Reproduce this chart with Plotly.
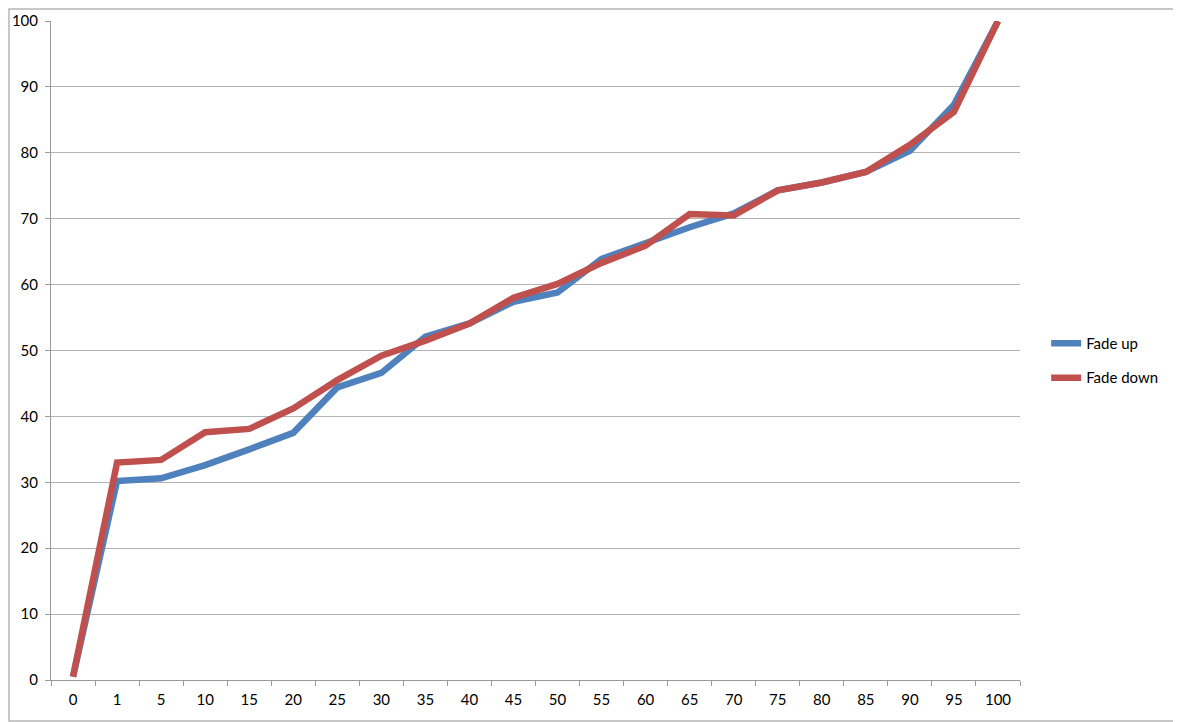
import plotly.graph_objects as go

categories = ["0", "1", "5", "10", "15", "20", "25", "30", "35", "40", "45",
              "50", "55", "60", "65", "70", "75", "80", "85", "90", "95", "100"]
fade_up = [0.5, 30.2, 30.6, 32.6, 35.0, 37.5, 44.4, 46.6, 52.1, 54.1, 57.4,
           58.8, 63.9, 66.4, 68.7, 70.8, 74.3, 75.5, 77.1, 80.3, 87.3, 100]
fade_down = [0.5, 33.0, 33.4, 37.6, 38.1, 41.2, 45.5, 49.2, 51.5, 54.1, 58.0,
             60.1, 63.3, 65.9, 70.7, 70.5, 74.3, 75.5, 77.1, 81.2, 86.2, 100]

# page body has an 8px margin, so the figure is a bit smaller than the window
W, H = 1173, 714
ML, MR, MT, MB = 43, 161, 13, 42
PW, PH = W - ML - MR, H - MT - MB

fig = go.Figure([
    go.Scatter(x=categories, y=fade_up, name="Fade up", mode="lines",
               line=dict(color="#4F81BD", width=6.5), legendgroup="a", cliponaxis=False),
    go.Scatter(x=categories, y=fade_down, name="Fade down", mode="lines",
               line=dict(color="#C0504D", width=6.5), legendgroup="b", cliponaxis=False),
])

fig.update_layout(
    width=W, height=H,
    margin=dict(l=ML, r=MR, t=MT, b=MB),
    paper_bgcolor="white", plot_bgcolor="white",
    font=dict(family="Lato, Open Sans, sans-serif", size=15, color="black"),
    legend=dict(x=1.027, y=0.485, xanchor="left", yanchor="middle",
                tracegroupgap=12, font=dict(size=15), bgcolor="rgba(0,0,0,0)"),
    shapes=[dict(type="rect", xref="paper", yref="paper",
                 x0=-(ML - 1) / PW, x1=1 + (MR - 1) / PW,
                 y0=-(MB - 1) / PH, y1=1 + (MT - 1) / PH,
                 line=dict(color="#b5b5b5", width=1.5), layer="below")],
)
fig.update_xaxes(type="category", range=[-0.5, len(categories) - 0.5],
                 showgrid=False, showline=True, linecolor="#9a9a9a",
                 linewidth=1, ticks="outside", tickson="boundaries", ticklen=5,
                 tickcolor="#9a9a9a", zeroline=False, ticklabelstandoff=6,
                 automargin=False)
fig.update_yaxes(range=[0, 100], dtick=10, showgrid=True, gridcolor="#b3b3b3",
                 gridwidth=1, showline=True, linecolor="#9a9a9a", ticks="outside",
                 ticklen=5, tickcolor="#9a9a9a", zeroline=False, ticklabelstandoff=4,
                 automargin=False)

fig.write_html("out.html")
